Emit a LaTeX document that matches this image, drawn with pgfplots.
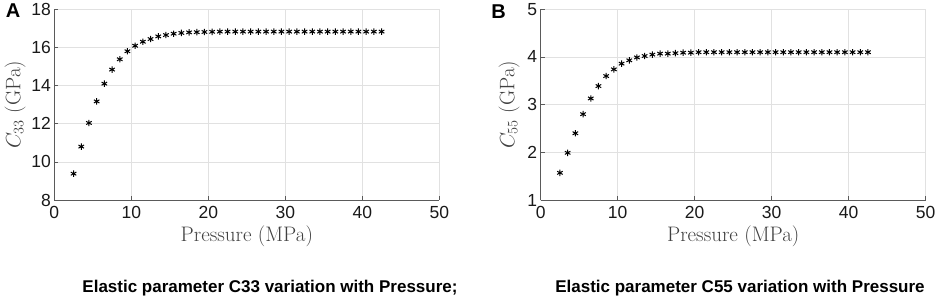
\documentclass[border=0pt]{standalone}
\usepackage[no-math]{fontspec}
\setmainfont{Liberation Sans}
\usepackage{pgfplots}
\pgfplotsset{compat=1.18}
\definecolor{axcol}{RGB}{90,90,90}
\definecolor{gridcol}{RGB}{225,225,225}
\pgfplotsset{
  panel/.style={
    scale only axis,
    width=385pt, height=190.7pt,
    anchor=south west,
    axis x line*=bottom, axis y line*=left,
    axis line style={axcol, line width=0.6pt, -},
    grid=major,
    major grid style={gridcol, line width=0.5pt},
    tick style={axcol, line width=0.6pt},
    tick align=inside,
    major tick length=4pt,
    xmin=0, xmax=50, xtick={0,10,...,50},
    /pgf/number format/assume math mode=true,
    tick label style={font=\fontsize{17.5}{17.5}\selectfont, black!90},
    xticklabel style={yshift=-3pt},
    xlabel style={at={(axis description cs:0.5,-0.19)}, anchor=center, font=\fontsize{21}{21}\fontfamily{lmr}\selectfont, black!75},
    ylabel style={anchor=center, font=\fontsize{21}{21}\fontfamily{lmr}\selectfont, black!75},
    xlabel={Pressure (MPa)},
    clip=false,
  },
  stars/.style={only marks, mark=asterisk, mark size=3.2pt, mark options={black, line width=1pt}},
}
\begin{document}
\begin{tikzpicture}
\path[use as bounding box] (0pt,0pt) rectangle (941pt,300pt);
\begin{axis}[panel, at={(54.3pt,100pt)},
  ymin=8, ymax=18, ytick={8,10,...,18},
  ylabel={$C_{33}$ (GPa)},
  ylabel style={at={(axis description cs:-0.102,0.5)}},
]
\addplot[stars] coordinates {
(2.5,9.38) (3.5,10.80) (4.5,12.04) (5.5,13.17) (6.5,14.10) (7.5,14.84)
(8.5,15.38) (9.5,15.80) (10.5,16.09) (11.5,16.30) (12.5,16.44) (13.5,16.58)
(14.5,16.65) (15.5,16.72) (16.5,16.76) (17.5,16.79) (18.5,16.80) (19.5,16.81)
(20.5,16.82) (21.5,16.83) (22.5,16.83) (23.5,16.83) (24.5,16.83) (25.5,16.83)
(26.5,16.83) (27.5,16.83) (28.5,16.83) (29.5,16.83) (30.5,16.83) (31.5,16.83)
(32.5,16.83) (33.5,16.83) (34.5,16.83) (35.5,16.83) (36.5,16.83) (37.5,16.83)
(38.5,16.83) (39.5,16.83) (40.5,16.83) (41.5,16.83) (42.5,16.83)
};
\end{axis}
\begin{axis}[panel, at={(540.7pt,100pt)},
  ymin=1, ymax=5, ytick={1,2,...,5},
  ylabel={$C_{55}$ (GPa)},
  ylabel style={at={(axis description cs:-0.082,0.5)}},
]
\addplot[stars] coordinates {
(2.5,1.57) (3.5,1.99) (4.5,2.40) (5.5,2.80) (6.5,3.13) (7.5,3.39)
(8.5,3.60) (9.5,3.74) (10.5,3.86) (11.5,3.93) (12.5,3.99) (13.5,4.02)
(14.5,4.05) (15.5,4.07) (16.5,4.07) (17.5,4.08) (18.5,4.09) (19.5,4.09)
(20.5,4.10) (21.5,4.10) (22.5,4.10) (23.5,4.10) (24.5,4.10) (25.5,4.10)
(26.5,4.10) (27.5,4.10) (28.5,4.10) (29.5,4.10) (30.5,4.10) (31.5,4.10)
(32.5,4.10) (33.5,4.10) (34.5,4.10) (35.5,4.10) (36.5,4.10) (37.5,4.10)
(38.5,4.10) (39.5,4.10) (40.5,4.10) (41.5,4.10) (42.5,4.10)
};
\end{axis}
\node[font=\fontsize{20}{20}\bfseries\selectfont, anchor=center] at (13pt,289pt) {A};
\node[font=\fontsize{20}{20}\bfseries\selectfont, anchor=center] at (498.5pt,288pt) {B};
\node[font=\fontsize{17}{17}\bfseries\selectfont, anchor=center] at (270pt,12pt) {Elastic parameter C33 variation with Pressure;};
\node[font=\fontsize{17}{17}\bfseries\selectfont, anchor=center] at (740pt,12pt) {Elastic parameter C55 variation with Pressure};
\end{tikzpicture}
\end{document}
